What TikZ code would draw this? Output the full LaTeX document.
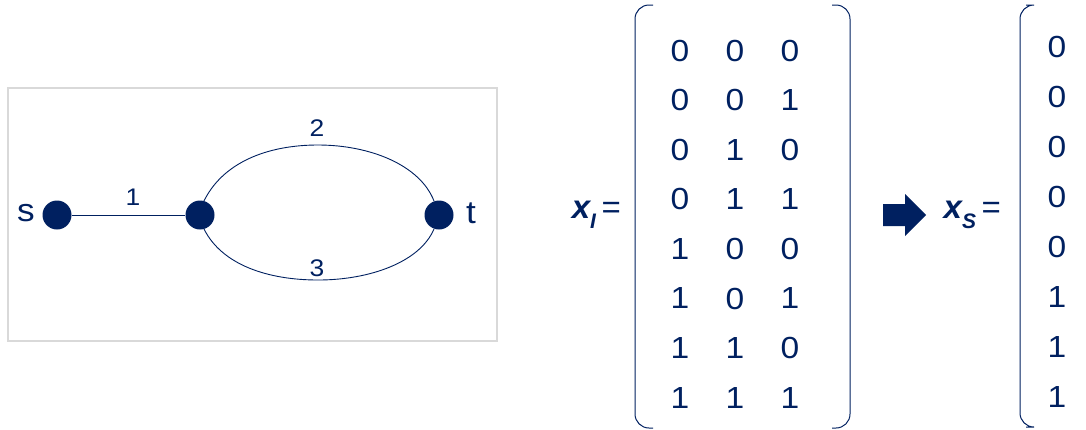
\documentclass[tikz,border=0pt]{standalone}
\usepackage{fontspec}
\usepackage{graphicx}
\setmainfont{Liberation Sans}
\definecolor{navy}{HTML}{002060}
\definecolor{framegray}{HTML}{D9D9D9}
\newcommand{\wideTxt}[1]{\scalebox{1.1}[1]{#1}}
\begin{document}
\begin{tikzpicture}[x=1pt,y=-1pt,
  vert/.style={circle,fill=navy,inner sep=0pt,minimum size=29pt},
  edge/.style={draw=navy,line width=0.9pt},
  elab/.style={text=navy,font=\fontsize{24}{24}\selectfont,inner sep=0pt},
  vlab/.style={text=navy,font=\fontsize{32}{32}\selectfont,inner sep=0pt},
  cell/.style={text=navy,font=\fontsize{30.5}{30}\selectfont,inner sep=0pt},
  brk/.style={draw=navy,line width=1pt,rounded corners=14pt},
  eqlab/.style={text=navy,inner sep=0pt,font=\fontsize{33}{33}\selectfont}]
\useasboundingbox (0,0) rectangle (1086,429);
% frame
\draw[framegray,line width=1.8pt] (8,88) rectangle (497,341);
% vertices
\node[vert] (s) at (57,215) {};
\node[vert] (m) at (200,215) {};
\node[vert] (t) at (439,215) {};
\node[vlab] (sl) at (26,213) {\wideTxt{s}};
\node[vlab] (tl) at (471,213) {\wideTxt{t}};
% edges
\draw[edge] (s) -- (m);
\node[elab] (e1) at (133,197) {\wideTxt{1}};
\draw[edge] (203,203) .. controls (222,162) and (268,145) .. (318,145)
  .. controls (370,145) and (420,165) .. (434,201);
\draw[edge] (204,229) .. controls (222,265) and (268,280) .. (318,280)
  .. controls (370,280) and (420,262) .. (434,229);
\node[elab] (e2) at (317,128) {\wideTxt{2}};
\node[elab] (e3) at (317,268) {\wideTxt{3}};
% x_I =
\node[eqlab,anchor=east] (xi) at (621,215) {{\bfseries\itshape x\raisebox{-0.3em}{\fontsize{21}{21}\selectfont I}}\,=};
% left matrix
\draw[brk] (653,5) -- (635,5) -- (635,428) -- (653,428);
\draw[brk] (832,5) -- (850,5) -- (850,428) -- (832,428);
\foreach \a/\b/\c [count=\i from 0] in {0/0/0,0/0/1,0/1/0,0/1/1,1/0/0,1/0/1,1/1/0,1/1/1}{
  \node[cell] (a\i) at (680,{50.5+49.6*\i}) {\wideTxt{\a}};
  \node[cell] (b\i) at (735,{50.5+49.6*\i}) {\wideTxt{\b}};
  \node[cell] (c\i) at (790,{50.5+49.6*\i}) {\wideTxt{\c}};
}
% block arrow
\fill[navy] (883,204) -- (905,204) -- (905,194) -- (926,215) -- (905,236) -- (905,226) -- (883,226) -- cycle;
% x_S =
\node[eqlab,anchor=east] (xs) at (1001,215) {{\bfseries\itshape x\raisebox{-0.3em}{\fontsize{21}{21}\selectfont S}}\,=};
% right matrix
\draw[brk] (1026,5) -- (1020,5) -- (1020,427) -- (1026,427);
\foreach \v [count=\i from 0] in {0,0,0,0,0,1,1,1}{
  \node[cell] (d\i) at (1057,{47+50*\i}) {\wideTxt{\v}};
}
\end{tikzpicture}
\end{document}
